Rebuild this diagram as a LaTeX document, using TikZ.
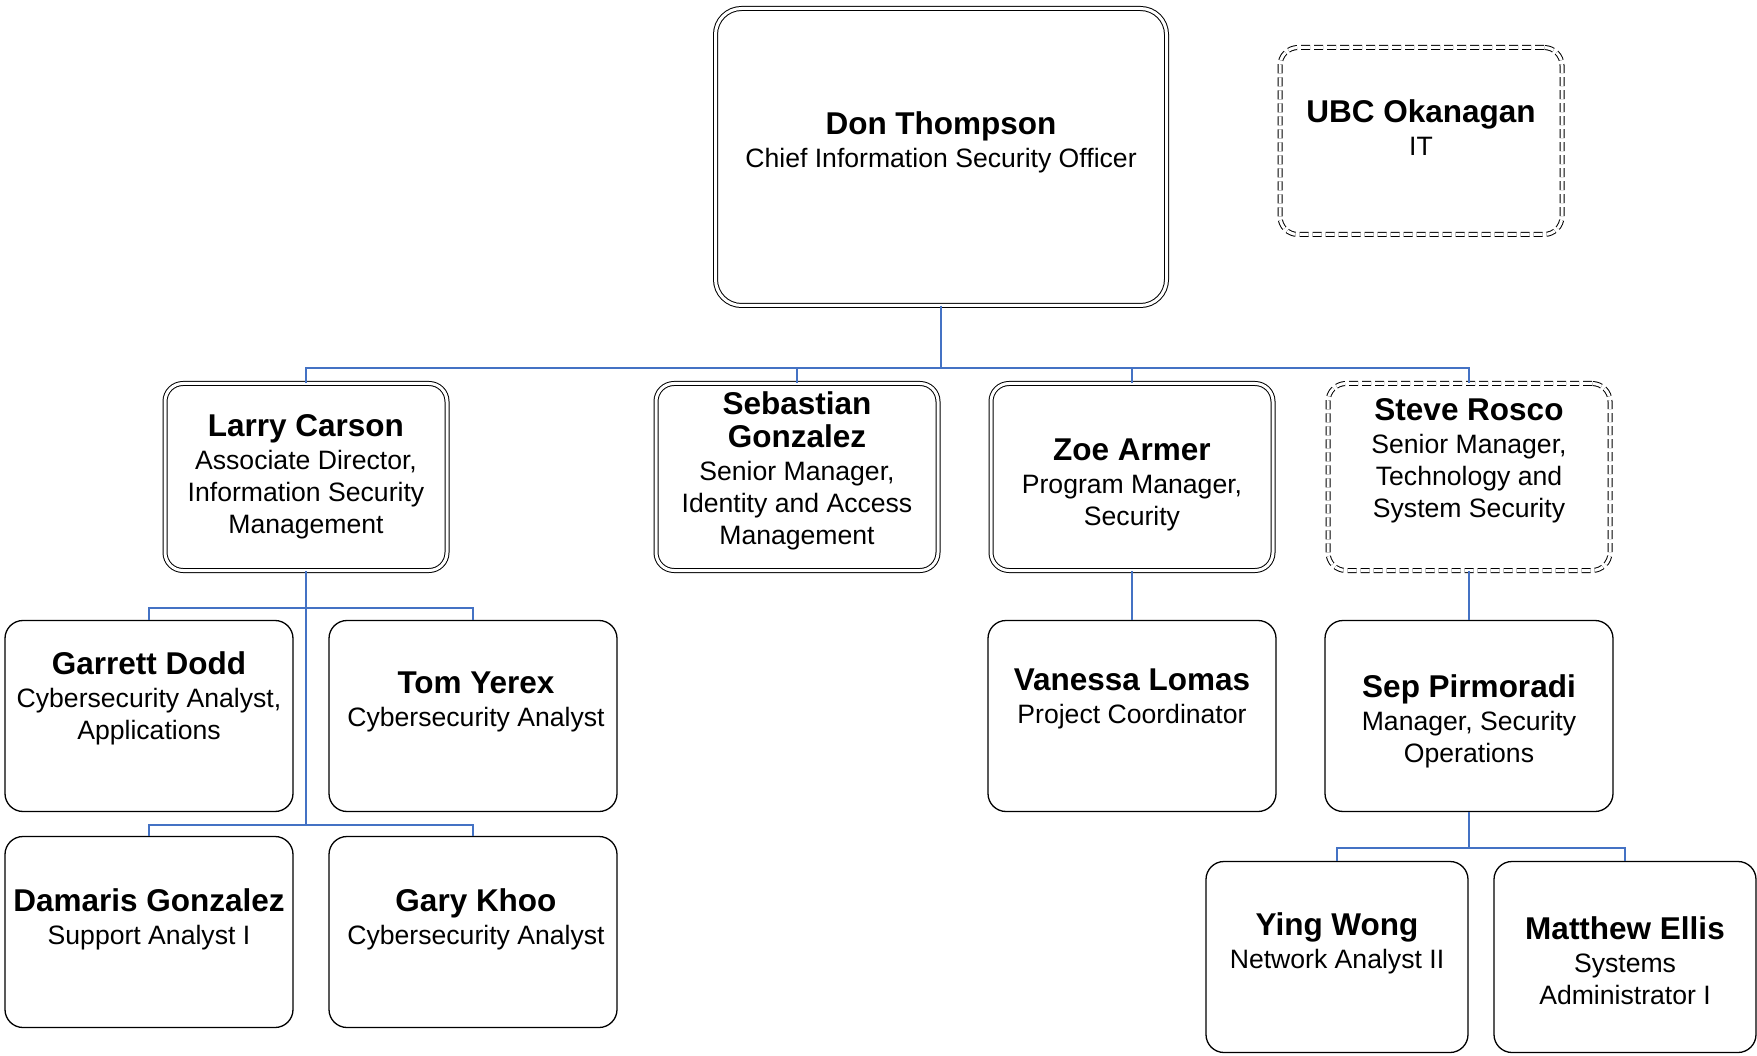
\documentclass[tikz,border=0pt]{standalone}
\usepackage{fontspec}
\setmainfont{Liberation Sans}
\definecolor{linkblue}{HTML}{4472C4}
\newcommand{\namefont}{\fontsize{31.5}{35}\selectfont\bfseries}
\newcommand{\who}[2]{\namefont #1\\[1pt]\fontsize{26.6}{32}\selectfont\mdseries #2}
\begin{document}
\begin{tikzpicture}[x=1pt,y=-1pt,
  chief/.style={draw,double,double distance=3pt,line width=1pt,rounded corners=26pt,minimum width=451pt,minimum height=297pt},
  mgr/.style={draw,double,double distance=3pt,line width=1pt,rounded corners=18pt,minimum width=282pt,minimum height=187pt},
  extmgr/.style={mgr,dash pattern=on 9pt off 4pt},
  staff/.style={draw,line width=1.3pt,rounded corners=18pt,minimum width=288pt,minimum height=191pt},
  txt/.style={align=center,inner sep=0pt,font=\fontsize{26.6}{32}\selectfont},
  link/.style={draw=linkblue,line width=1.8pt}]
\useasboundingbox (0,0) rectangle (1757,1056);
\node[chief] (don) at (941,157) {};
\node[extmgr] (ubc) at (1421,141) {};
\node[mgr] (larry) at (306,477) {};
\node[mgr] (sebastian) at (797,477) {};
\node[mgr] (zoe) at (1132,477) {};
\node[extmgr] (steve) at (1469,477) {};
\node[staff] (garrett) at (149,716) {};
\node[staff] (tom) at (473,716) {};
\node[staff] (damaris) at (149,932) {};
\node[staff] (gary) at (473,932) {};
\node[staff] (vanessa) at (1132,716) {};
\node[staff] (sep) at (1469,716) {};
\node[staff,minimum width=262pt] (ying) at (1337,957) {};
\node[staff,minimum width=262pt] (matthew) at (1625,957) {};
\node[txt] (don-t) at (941,142) {\who{Don Thompson}{Chief Information Security Officer}};
\node[txt] (ubc-t) at (1421,128) {\who{UBC Okanagan}{IT}};
\node[txt] (larry-t) at (306,477) {\who{Larry Carson}{Associate Director,\\Information Security\\Management}};
\node[txt] (sebastian-t) at (797,471) {\who{Sebastian\\[1pt]\namefont Gonzalez}{Senior Manager,\\Identity and Access\\Management}};
\node[txt] (zoe-t) at (1132,485) {\who{Zoe Armer}{Program Manager,\\Security}};
\node[txt] (steve-t) at (1469,461) {\who{Steve Rosco}{Senior Manager,\\Technology and\\System Security}};
\node[txt] (garrett-t) at (149,698) {\who{Garrett Dodd}{Cybersecurity Analyst,\\Applications}};
\node[txt] (tom-t) at (476,702) {\who{Tom Yerex}{Cybersecurity Analyst}};
\node[txt] (damaris-t) at (149,919) {\who{Damaris Gonzalez}{Support Analyst I}};
\node[txt] (gary-t) at (476,919) {\who{Gary Khoo}{Cybersecurity Analyst}};
\node[txt] (vanessa-t) at (1132,699) {\who{Vanessa Lomas}{Project Coordinator}};
\node[txt] (sep-t) at (1469,721) {\who{Sep Pirmoradi}{Manager, Security\\Operations}};
\node[txt] (ying-t) at (1337,943) {\who{Ying Wong}{Network Analyst II}};
\node[txt] (matthew-t) at (1625,961) {\who{Matthew Ellis}{Systems\\Administrator I}};
\coordinate (bus) at (941,368);
\coordinate (larrybusa) at (306,608);
\coordinate (larrybusb) at (306,825);
\coordinate (sepbus) at (1469,848);
\draw[link] (don.south) -- (bus);
\foreach \c in {larry,sebastian,zoe,steve}
  \draw[link] (bus) -| (\c.north);
\draw[link] (larry.south) -- (larrybusb);
\foreach \c in {garrett,tom}
  \draw[link] (larrybusa) -| (\c.north);
\foreach \c in {damaris,gary}
  \draw[link] (larrybusb) -| (\c.north);
\draw[link] (zoe.south) -- (vanessa.north);
\draw[link] (steve.south) -- (sep.north);
\draw[link] (sep.south) -- (sepbus);
\foreach \c in {ying,matthew}
  \draw[link] (sepbus) -| (\c.north);
\end{tikzpicture}
\end{document}
